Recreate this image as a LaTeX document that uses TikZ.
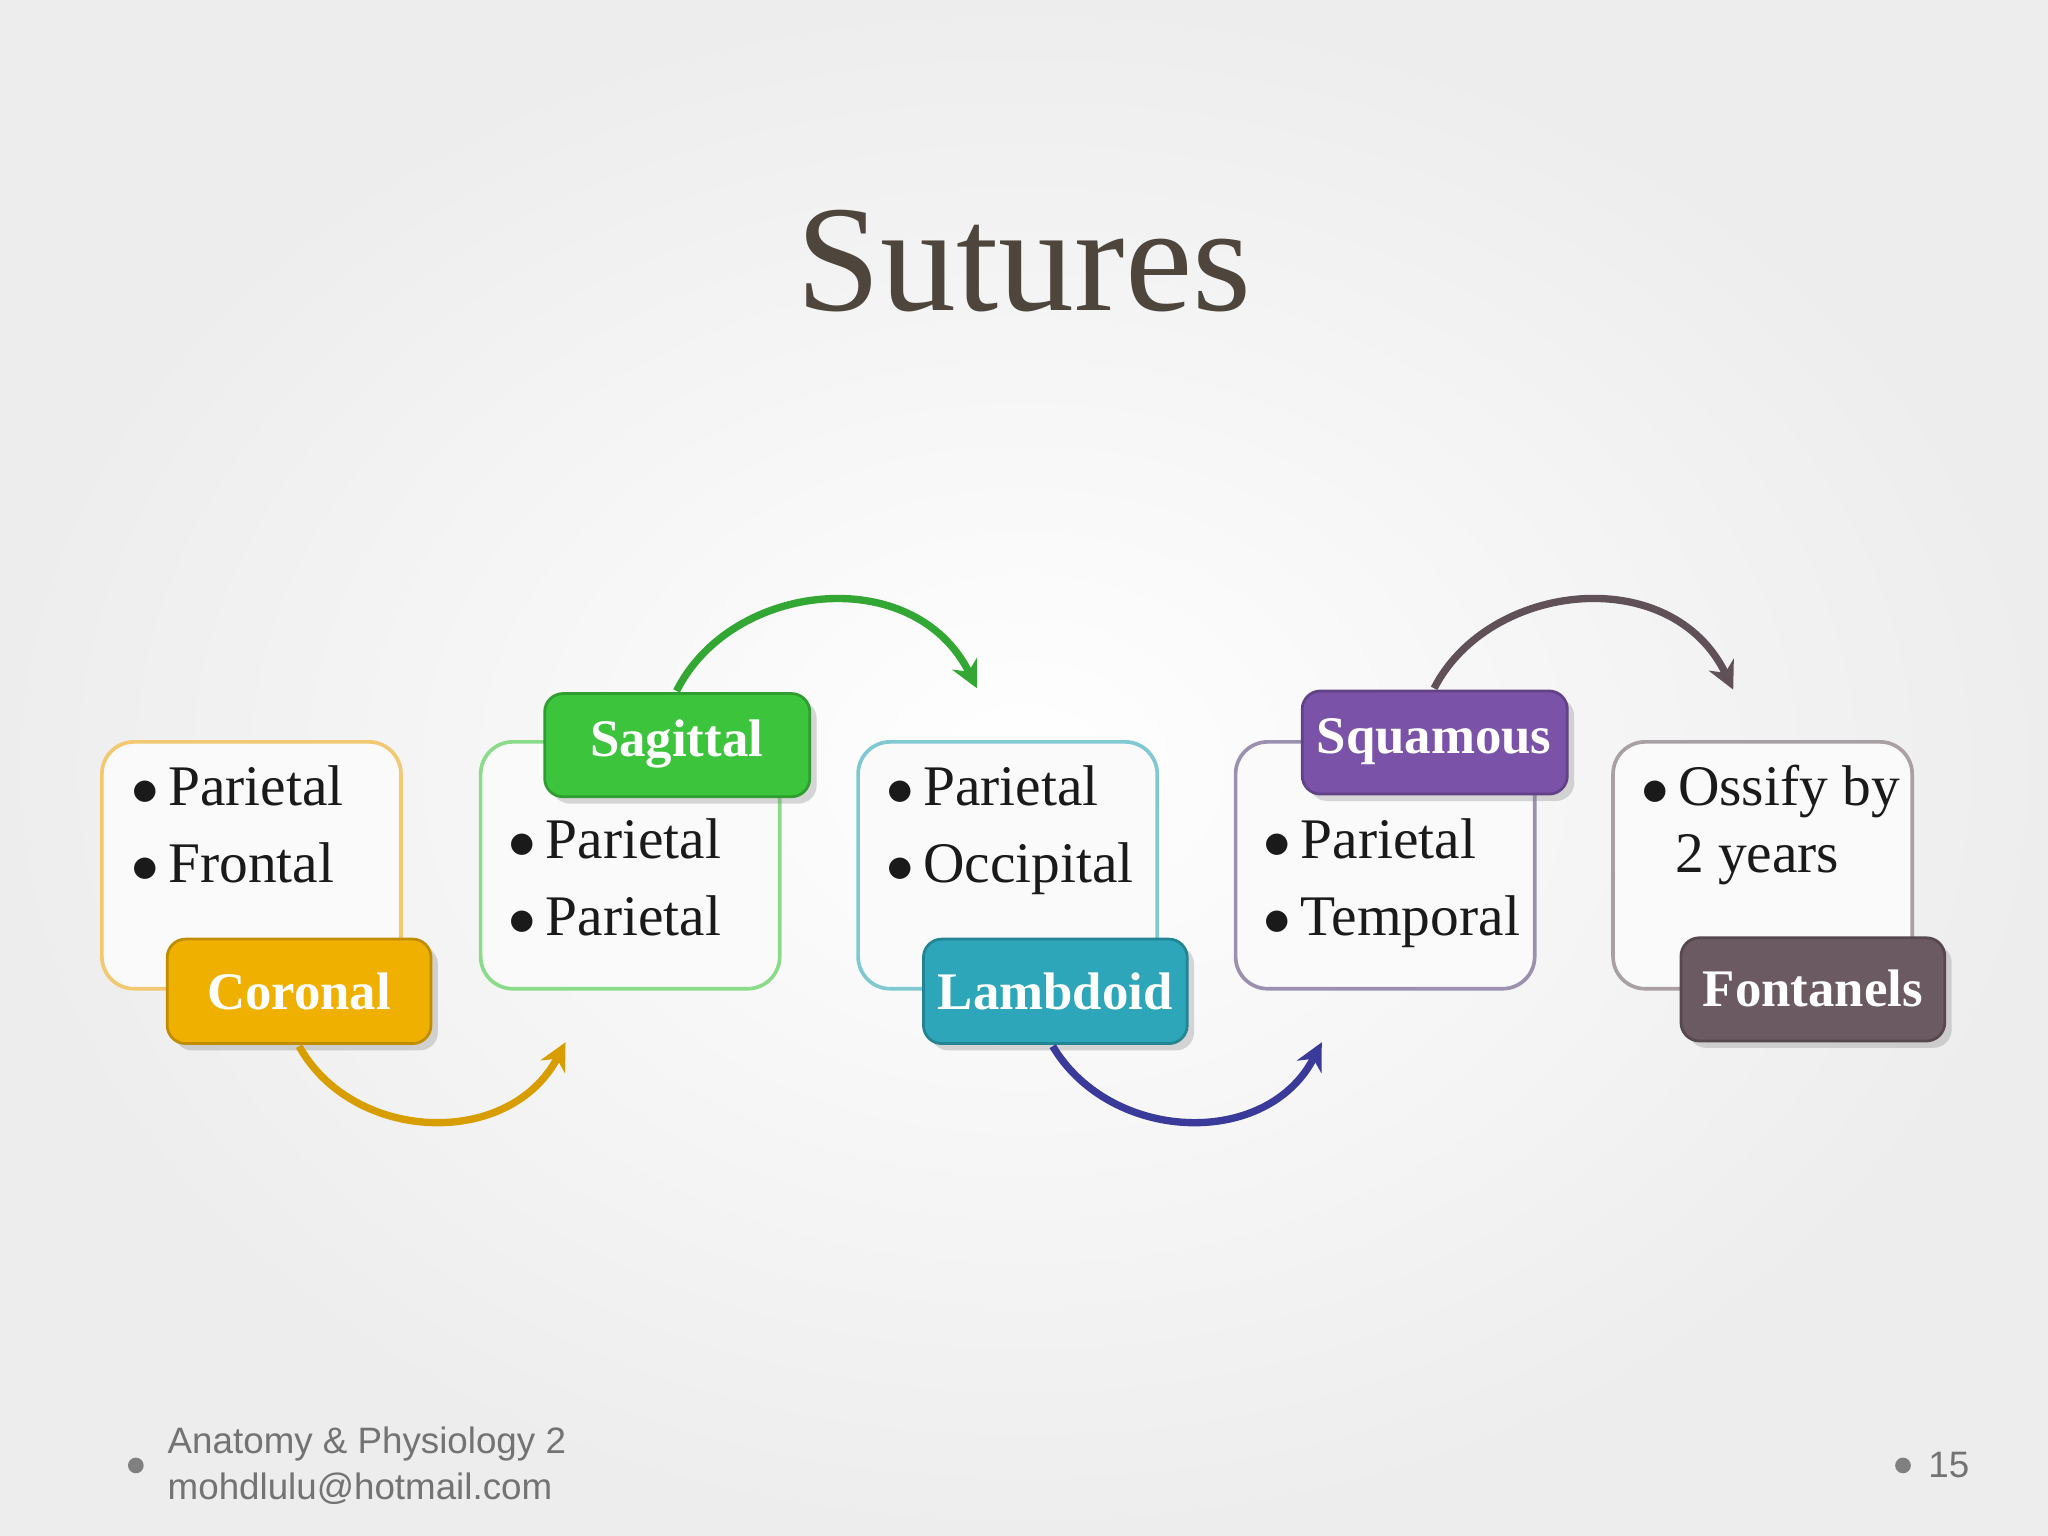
\documentclass[tikz,border=0pt]{standalone}
\usepackage{fontspec}
\setmainfont{Liberation Serif}
\newfontfamily\footfont{Liberation Sans}
\usetikzlibrary{arrows.meta,shadows}
\definecolor{cor}{HTML}{F0B000}
\definecolor{sag}{HTML}{3CC43C}
\definecolor{lam}{HTML}{2CA6B8}
\definecolor{squ}{HTML}{7A52A8}
\definecolor{fon}{HTML}{6B5A62}
\definecolor{txt}{HTML}{1A1A1A}
\definecolor{ttl}{HTML}{4E463C}
\definecolor{corl}{HTML}{F2C870}
\definecolor{sagl}{HTML}{8ADC8A}
\definecolor{laml}{HTML}{80C8D2}
\definecolor{squl}{HTML}{9C90B0}
\definecolor{fonl}{HTML}{A8A0A4}
\definecolor{lamarr}{HTML}{3A3A9A}
\tikzset{
 wbox/.style={draw=#1, line width=0.8pt, fill=white!96!gray, rounded corners=7pt},
 lbox/.style={fill=#1, draw=#1!80!black, line width=0.6pt, rounded corners=4pt, drop shadow={opacity=0.3,shadow xshift=1.5pt,shadow yshift=-1.5pt}},
 ltext/.style={text=white, font=\fontsize{11.5}{14}\selectfont\bfseries},
 btext/.style={text=txt, font=\fontsize{12.5}{15}\selectfont, anchor=base west},
 carrow/.style={line width=1.6pt, draw=#1, -{Stealth[length=6pt,width=6pt]}}
}
\begin{document}
\begin{tikzpicture}[x=0.01cm,y=-0.01cm]
\shade[inner color=white, outer color=gray!14] (0,0) rectangle (1568,1176);
\useasboundingbox (0,0) rectangle (1568,1176);
\node[text=ttl, font=\fontsize{33}{38}\selectfont] (title) at (784,200) {Sutures};
% white boxes
\draw[wbox=corl] (78,568) rectangle (307,757);
\draw[wbox=sagl] (368,568) rectangle (597,757);
\draw[wbox=laml] (657,568) rectangle (886,757);
\draw[wbox=squl] (946,568) rectangle (1175,757);
\draw[wbox=fonl] (1235,568) rectangle (1464,757);
% body text
\node[btext] (b1a) at (88,617) {$\bullet$\,Parietal};
\node[btext] (b1b) at (88,676) {$\bullet$\,Frontal};
\node[btext] (b2a) at (377,657) {$\bullet$\,Parietal};
\node[btext] (b2b) at (377,716) {$\bullet$\,Parietal};
\node[btext] (b3a) at (666,617) {$\bullet$\,Parietal};
\node[btext] (b3b) at (666,676) {$\bullet$\,Occipital};
\node[btext] (b4a) at (955,657) {$\bullet$\,Parietal};
\node[btext] (b4b) at (955,716) {$\bullet$\,Temporal};
\node[btext] (b5a) at (1244,617) {$\bullet$\,Ossify by};
\node[btext] (b5b) at (1270,668) {2 years};
% label boxes
\draw[lbox=cor] (128,719) rectangle (330,799); \node[ltext] (cor) at (229,759) {Coronal};
\draw[lbox=sag] (417,531) rectangle (620,610); \node[ltext] (sag) at (518,570) {Sagittal};
\draw[lbox=lam] (707,719) rectangle (909,799); \node[ltext] (lam) at (808,759) {Lambdoid};
\draw[lbox=squ] (997,529) rectangle (1200,608); \node[ltext] (squ) at (1098,568) {Squamous};
\draw[lbox=fon] (1287,718) rectangle (1489,797); \node[ltext] (fon) at (1388,757) {Fontanels};
% arrows
\coordinate (e1) at (433,798); \coordinate (e2) at (748,527);
\coordinate (e3) at (1012,798); \coordinate (e4) at (1327,528);
\draw[carrow=cor!90!black] (229,801) .. controls (270,875) and (390,880) .. (e1);
\draw[carrow=sag!85!black] (518,529) .. controls (560,445) and (700,430) .. (e2);
\draw[carrow=lamarr] (806,801) .. controls (850,875) and (970,880) .. (e3);
\draw[carrow=fon!90!black] (1098,527) .. controls (1140,445) and (1280,430) .. (e4);
% footer
\fill[gray] (104,1122) circle (6);
\node[anchor=west, text=gray!90!black, font=\footfont\fontsize{8}{10}\selectfont, align=left] (foot) at (116,1122) {Anatomy \& Physiology 2\\mohdlulu@hotmail.com};
\fill[gray] (1457,1122) circle (6);
\node[anchor=west, text=gray!90!black, font=\footfont\fontsize{8}{10}\selectfont] (pg) at (1464,1122) {15};
\end{tikzpicture}
\end{document}
